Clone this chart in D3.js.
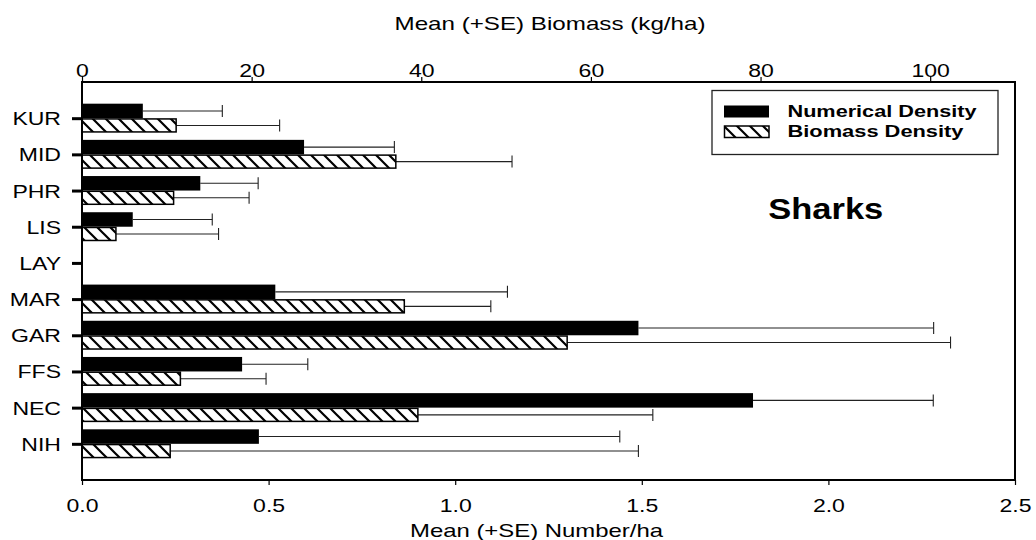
<!DOCTYPE html>
<html>
<head>
<meta charset="utf-8">
<script src="https://cdn.jsdelivr.net/npm/d3@7"></script>
<style>
  html, body { margin: 0; padding: 0; background: #fff; }
  svg { display: block; font-family: "Liberation Sans", Arial, sans-serif; }
</style>
</head>
<body>
<svg id="chart" width="1036" height="540"></svg>
<script>
// ---- data ----
const categories = ["KUR", "MID", "PHR", "LIS", "LAY", "MAR", "GAR", "FFS", "NEC", "NIH"];
const numberMean = [0.163, 0.595, 0.317, 0.136, 0, 0.518, 1.491, 0.429, 1.798, 0.474];
const numberSE   = [0.213, 0.242, 0.155, 0.213, 0, 0.622, 0.791, 0.176, 0.483, 0.967];
const biomassMean = [11.1, 37.0, 10.8, 4.0, 0, 38.0, 57.2, 11.6, 39.6, 10.4];
const biomassSE   = [12.2, 13.7, 8.9, 12.1, 0, 10.2, 45.2, 10.1, 27.7, 55.2];
const numberTicks = [0, 0.5, 1.0, 1.5, 2.0, 2.5];
const biomassTicks = [0, 20, 40, 60, 80, 100];
const seriesNames = ["Numerical Density", "Biomass Density"];
const panelLabel = "Sharks";
const topTitle = "Mean (+SE) Biomass (kg/ha)";
const bottomTitle = "Mean (+SE) Number/ha";

// ---- layout ----
const svg = d3.select("#chart");
const L = 82, R = 1015, T = 82, B = 480;
const SX = 1.28; // horizontal stretch of the reference text

const xNum = d3.scaleLinear().domain([0, 2.5]).range([L, R]);
const xBio = d3.scaleLinear().domain([0, 110]).range([L, R]);
const y = d3.scalePoint().domain(categories).range([T, B]).padding(1);
const barH = 14.5;

const defs = svg.append("defs");
const pat = defs.append("pattern").attr("id", "hatch")
  .attr("patternUnits", "userSpaceOnUse").attr("width", 13).attr("height", 13);
pat.append("rect").attr("width", 13).attr("height", 13).attr("fill", "#fff");
pat.append("path").attr("d", "M0,0 L13,13 M-2,11 L2,15 M11,-2 L15,2")
  .attr("stroke", "#000").attr("stroke-width", 2.2);

const rows = categories.map((c, i) => ({
  c, n: numberMean[i], ns: numberSE[i], b: biomassMean[i], bs: biomassSE[i]
}));

// ---- error bars (drawn beneath bars) ----
const eb = svg.append("g").attr("stroke", "#222").attr("stroke-width", 1.1);
rows.filter(d => d.ns > 0).forEach(d => {
  const yc = y(d.c) - barH / 2;
  eb.append("line").attr("x1", xNum(d.n)).attr("x2", xNum(d.n + d.ns)).attr("y1", yc).attr("y2", yc);
  eb.append("line").attr("x1", xNum(d.n + d.ns)).attr("x2", xNum(d.n + d.ns)).attr("y1", yc - 6).attr("y2", yc + 6);
});
rows.filter(d => d.bs > 0).forEach(d => {
  const yc = y(d.c) + barH / 2;
  eb.append("line").attr("x1", xBio(d.b)).attr("x2", xBio(d.b + d.bs)).attr("y1", yc).attr("y2", yc);
  eb.append("line").attr("x1", xBio(d.b + d.bs)).attr("x2", xBio(d.b + d.bs)).attr("y1", yc - 6).attr("y2", yc + 6);
});

// ---- bars ----
svg.append("g").selectAll("rect").data(rows.filter(d => d.n > 0)).join("rect")
  .attr("x", xNum(0)).attr("y", d => y(d.c) - barH)
  .attr("width", d => xNum(d.n) - xNum(0)).attr("height", barH)
  .attr("fill", "#000");
svg.append("g").selectAll("rect").data(rows.filter(d => d.b > 0)).join("rect")
  .attr("x", xBio(0)).attr("y", d => y(d.c) + 0.75)
  .attr("width", d => xBio(d.b) - xBio(0)).attr("height", barH - 1.5)
  .attr("fill", "url(#hatch)").attr("stroke", "#000").attr("stroke-width", 1.5);

// ---- axes ----
function fixText(sel, font) {
  sel.attr("font-family", "Liberation Sans, Arial, sans-serif").attr("font-size", font).attr("fill", "#000");
}
const axTop = svg.append("g").attr("transform", `translate(0,${T})`)
  .call(d3.axisTop(xBio).tickValues(biomassTicks).tickSize(5).tickFormat(d3.format("d")));
axTop.select(".domain").remove();
axTop.selectAll("line").attr("stroke", "#000").attr("stroke-width", 1.2);
axTop.selectAll("text").attr("y", null).attr("dy", null)
  .attr("transform", `translate(0,-5.5) scale(${SX},1)`).call(fixText, 18);

const axBot = svg.append("g").attr("transform", `translate(0,${B})`)
  .call(d3.axisBottom(xNum).tickValues(numberTicks).tickSize(5).tickFormat(d3.format(".1f")));
axBot.select(".domain").remove();
axBot.selectAll("line").attr("stroke", "#000").attr("stroke-width", 1.2);
axBot.selectAll("text").attr("y", null).attr("dy", null)
  .attr("transform", `translate(0,31.5) scale(${SX},1)`).call(fixText, 18);

const axLeft = svg.append("g").attr("transform", `translate(${L},0)`)
  .call(d3.axisLeft(y).tickSize(10));
axLeft.select(".domain").remove();
axLeft.selectAll("line").attr("stroke", "#000").attr("stroke-width", 3);
axLeft.selectAll("text").attr("x", null).attr("dy", null)
  .attr("transform", `translate(-21,6.5) scale(${SX},1)`).call(fixText, 18);

// ---- frame ----
svg.append("rect").attr("x", L).attr("y", T).attr("width", R - L).attr("height", B - T)
  .attr("fill", "none").attr("stroke", "#000").attr("stroke-width", 2);

// ---- titles ----
svg.append("text").attr("x", 550).attr("y", 29.7).attr("text-anchor", "middle")
  .attr("textLength", 311).attr("lengthAdjust", "spacingAndGlyphs")
  .call(fixText, 18.5).text(topTitle);
svg.append("text").attr("x", 410).attr("y", 536.5)
  .attr("textLength", 253).attr("lengthAdjust", "spacingAndGlyphs")
  .call(fixText, 18.5).text(bottomTitle);

// ---- legend ----
const lg = svg.append("g");
lg.append("rect").attr("x", 712).attr("y", 90.5).attr("width", 286).attr("height", 64)
  .attr("fill", "#fff").attr("stroke", "#222").attr("stroke-width", 1.3);
lg.append("rect").attr("x", 724).attr("y", 105.5).attr("width", 45).attr("height", 12).attr("fill", "#000");
lg.append("rect").attr("x", 724.5).attr("y", 126).attr("width", 44.5).attr("height", 11.5)
  .attr("fill", "url(#hatch)").attr("stroke", "#000").attr("stroke-width", 1.5);
const legendWidths = [189, 176];
seriesNames.forEach((s, i) => {
  lg.append("text").attr("x", 787.5).attr("y", 116.8 + i * 20)
    .attr("font-weight", "bold").attr("textLength", legendWidths[i]).attr("lengthAdjust", "spacingAndGlyphs")
    .call(fixText, 17).text(s);
});

svg.append("text").attr("x", 768.3).attr("y", 219.3).attr("font-weight", "bold")
  .attr("textLength", 115).attr("lengthAdjust", "spacingAndGlyphs")
  .call(fixText, 30).text(panelLabel);
</script>
</body>
</html>
